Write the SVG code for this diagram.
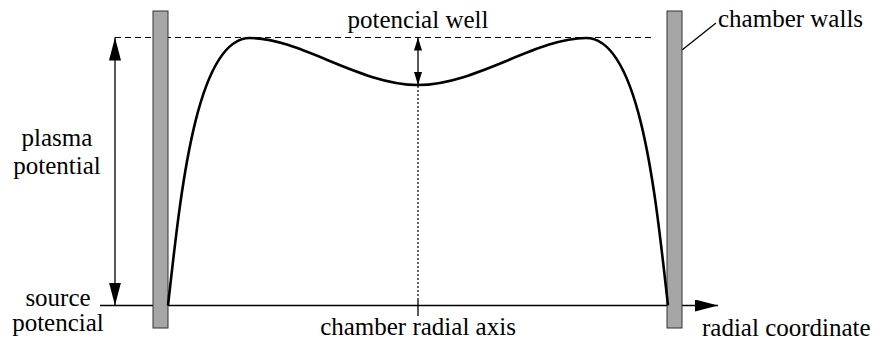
<svg xmlns="http://www.w3.org/2000/svg" width="874" height="342" viewBox="0 0 874 342">
<style>
text{font-family:'Liberation Serif','DejaVu Serif','Times New Roman',Times,serif;font-size:25px;fill:#000}
.wall{fill:#a6a6a6;stroke:#333;stroke-width:1}
.ln{stroke:#000;stroke-width:1.3;fill:none}
.dash{stroke:#000;stroke-width:1.2;stroke-dasharray:6,4;fill:none}
.dot{stroke:#000;stroke-width:1.2;stroke-dasharray:2,2;fill:none}
.curve{stroke:#000;stroke-width:2.6;fill:none}
</style>
<defs>
<marker id="ah" markerWidth="23" markerHeight="12" refX="23" refY="6" orient="auto-start-reverse" markerUnits="userSpaceOnUse"><path d="M0,0 L23,6 L0,12 Z" fill="#000"/></marker>
<marker id="as" markerWidth="13" markerHeight="8" refX="13" refY="4" orient="auto-start-reverse" markerUnits="userSpaceOnUse"><path d="M0,0 L13,4 L0,8 Z" fill="#000"/></marker>
</defs>
<g id="connectors">
<line class="dash" x1="115" y1="37.5" x2="652" y2="37.5"/>
<line class="ln" x1="100" y1="305.5" x2="718" y2="305.5" marker-end="url(#ah)"/>
<line class="ln" x1="115" y1="37.5" x2="115" y2="305.5" marker-start="url(#ah)" marker-end="url(#ah)"/>
<line class="ln" x1="418" y1="37.5" x2="418" y2="85" marker-start="url(#as)" marker-end="url(#as)"/>
<line class="dot" x1="418" y1="86" x2="418" y2="300"/>
<line class="ln" x1="418" y1="300" x2="418" y2="316"/>
<line class="ln" x1="682" y1="50" x2="716" y2="23"/>
</g>
<g id="wall-left"><rect class="wall" x="153" y="11" width="15" height="317"/></g>
<g id="wall-right"><rect class="wall" x="667" y="11" width="15" height="317"/></g>
<g id="potential-curve">
<path class="curve" d="M168,305.5 C180,200 195,38 250,38 C300,38 360,85 418,85 C476,85 536,38 586,38 C641,38 656,200 668,305.5"/>
</g>
<g id="labels">
<text x="418" y="28" text-anchor="middle">potencial well</text>
<text x="718" y="27">chamber walls</text>
<text x="57" y="146" text-anchor="middle">plasma</text>
<text x="57" y="174" text-anchor="middle">potential</text>
<text x="58" y="306" text-anchor="middle">source</text>
<text x="58" y="331" text-anchor="middle">potencial</text>
<text x="418" y="335" text-anchor="middle">chamber radial axis</text>
<text x="702" y="336">radial coordinate</text>
</g>
</svg>
